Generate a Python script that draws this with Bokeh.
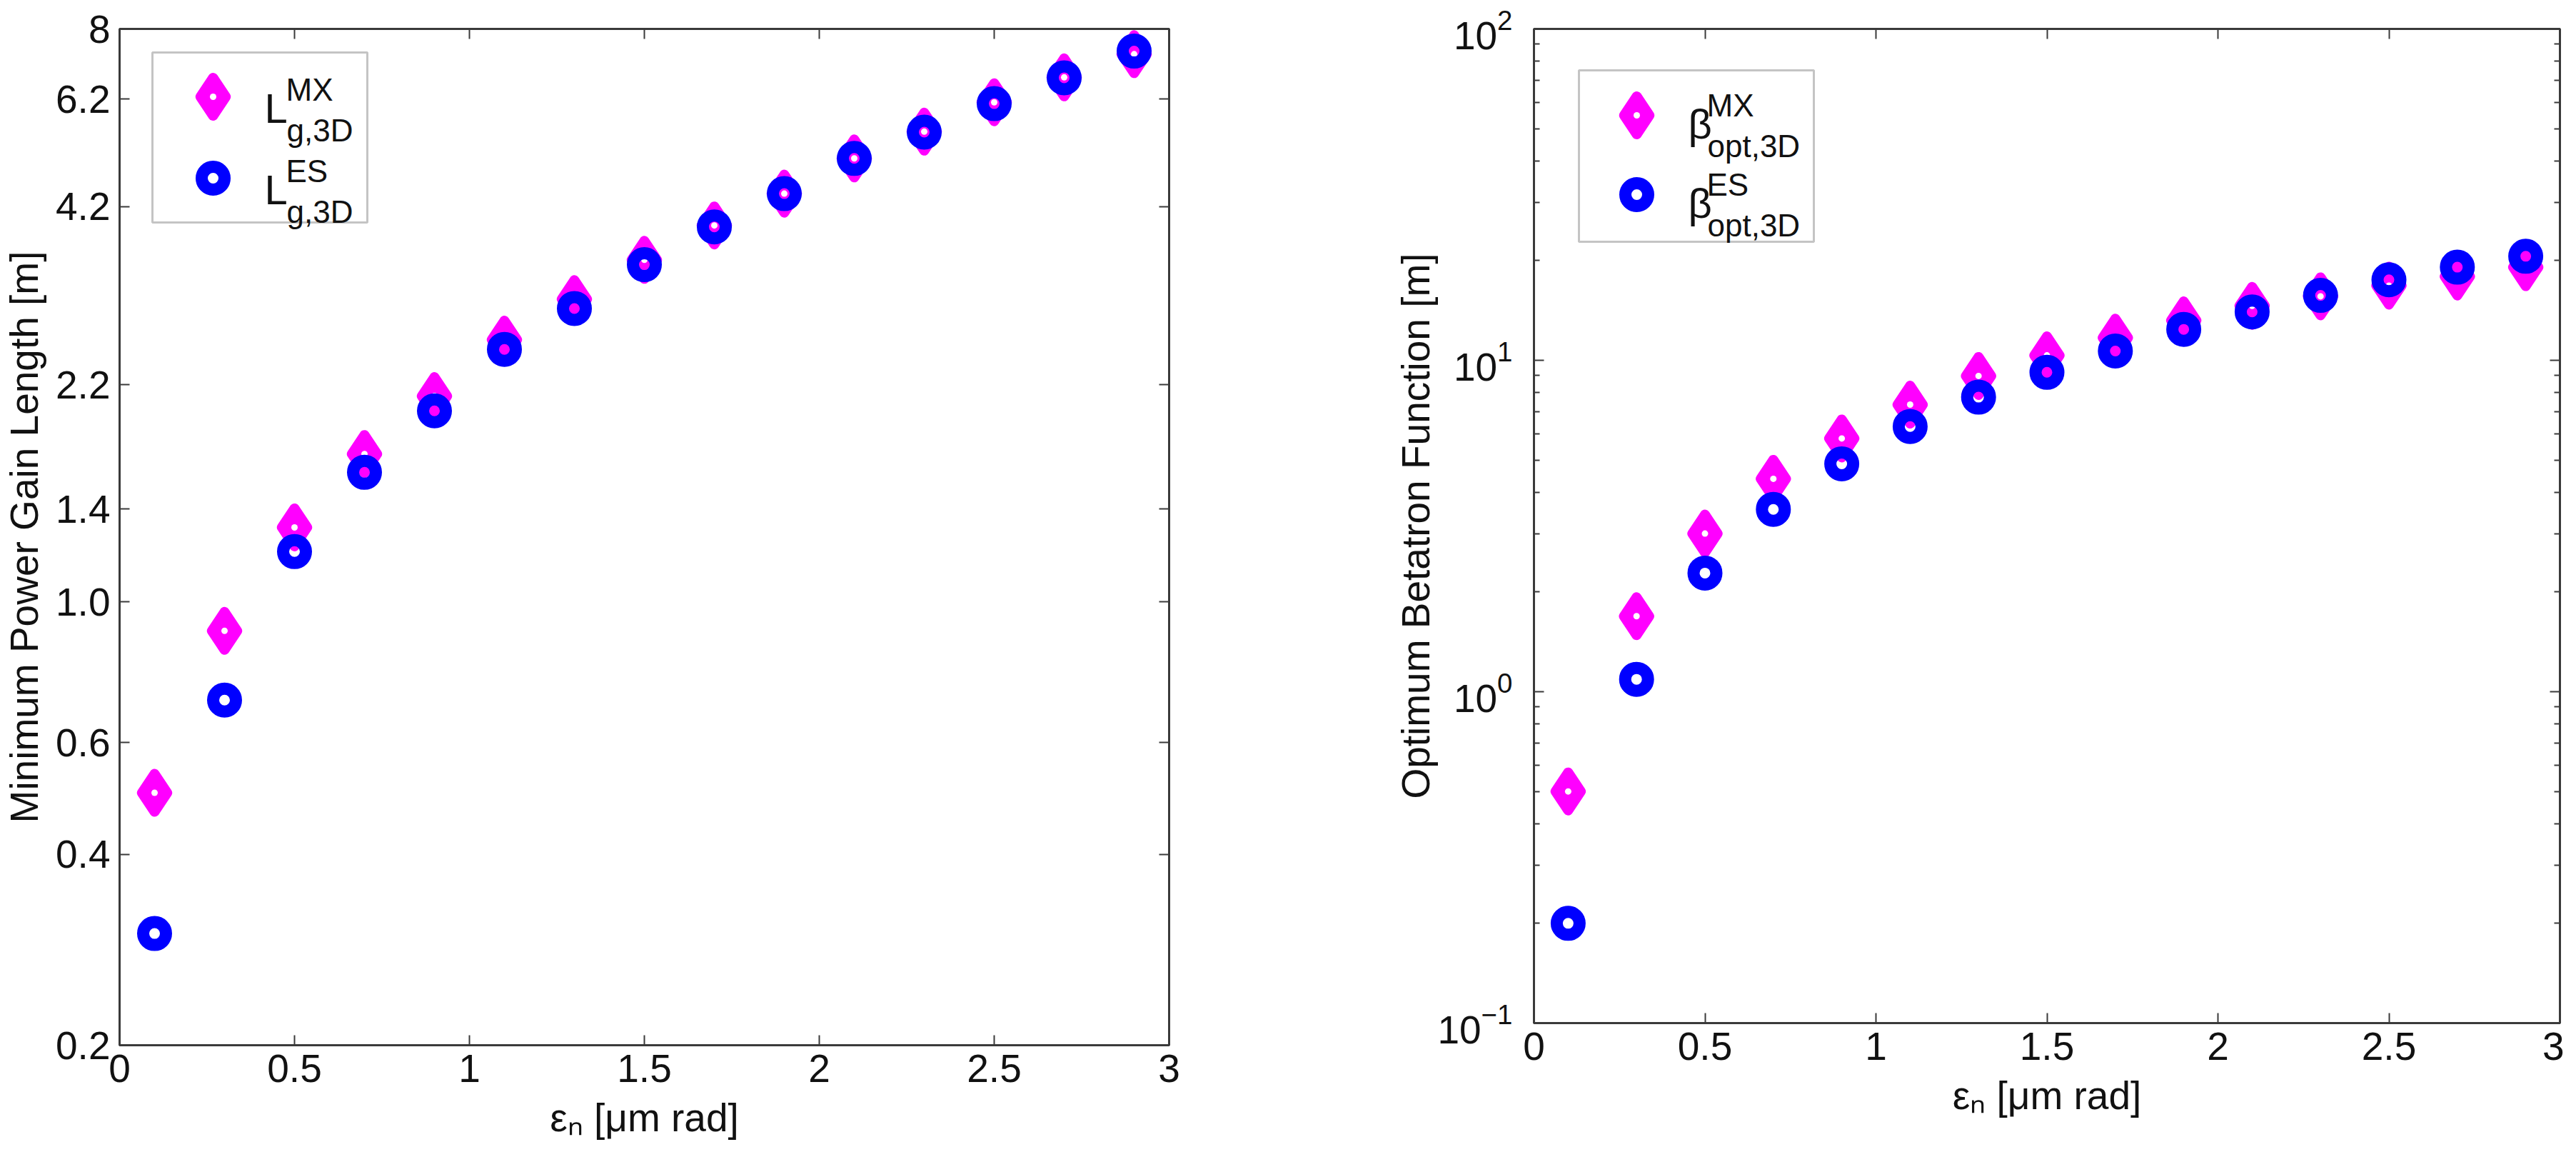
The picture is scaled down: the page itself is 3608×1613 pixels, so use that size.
import math
from bokeh.plotting import figure
from bokeh.layouts import row
from bokeh.models import (Range1d, FixedTicker, PrintfTickFormatter, LinearAxis, LogAxis,
                          BoxAnnotation, Label, LogTickFormatter)
from bokeh.embed import file_html
from bokeh.resources import INLINE

# ---------------- data ----------------
EPS = [0.1, 0.3, 0.5, 0.7, 0.9, 1.1, 1.3, 1.5, 1.7, 1.9, 2.1, 2.3, 2.5, 2.7, 2.9]
LG_MX = [0.50, 0.90, 1.31, 1.71, 2.11, 2.59, 3.00, 3.46, 3.92, 4.40, 5.00, 5.51, 6.13, 6.71, 7.30]
LG_ES = [0.30, 0.70, 1.20, 1.60, 2.00, 2.50, 2.90, 3.40, 3.90, 4.40, 5.00, 5.50, 6.10, 6.70, 7.38]
BETA_MX = [0.50, 1.69, 3.00, 4.39, 5.81, 7.35, 8.97, 10.35, 11.7, 13.2, 14.6, 15.6, 16.8, 17.9, 19.1]
BETA_ES = [0.20, 1.09, 2.28, 3.55, 4.87, 6.31, 7.74, 9.20, 10.67, 12.4, 14.0, 15.7, 17.5, 19.1, 20.6]

X_TICKS = [0, 0.5, 1, 1.5, 2, 2.5, 3]
L_TICKS = [0.2, 0.4, 0.6, 1.0, 1.4, 2.2, 4.2, 6.2, 8]
B_TICKS = [0.1, 1, 10, 100]
B_MINOR = [m * d for d in (0.1, 1, 10) for m in range(2, 10)]

X_LABEL = "\u03b5\u2099 [\u03bcm rad]"
LEFT_YLABEL = "Minimum Power Gain Length [m]"
RIGHT_YLABEL = "Optimum Betatron Function [m]"
LEG_LEFT = [("L", "MX", "g,3D"), ("L", "ES", "g,3D")]
LEG_RIGHT = [("\u03b2", "MX", "opt,3D"), ("\u03b2", "ES", "opt,3D")]

FONT = "Liberation Sans"
MAGENTA = "#FF00FF"
BLUE = "#0000FF"
INK = "#111111"
FRAME = "#3a3a3a"


def style_axis(ax, show_labels, ticks, color=FRAME):
    ax.axis_line_color = color
    ax.axis_line_width = 3
    ax.major_tick_in = 14
    ax.major_tick_out = 0
    ax.minor_tick_in = 8
    ax.minor_tick_out = 0
    ax.major_tick_line_color = color
    ax.major_tick_line_width = 2
    ax.minor_tick_line_color = color
    ax.minor_tick_line_width = 2
    ax.major_label_text_font = FONT
    ax.major_label_text_color = INK
    if show_labels:
        ax.major_label_text_font_size = "55px"
        ax.major_label_standoff = 13
    else:
        ax.formatter = PrintfTickFormatter(format="%g")
        ax.major_label_overrides = {t: "" for t in ticks}
        ax.major_label_text_font_size = "2px"
        ax.major_label_standoff = 0
    ax.axis_label_text_font = FONT
    ax.axis_label_text_font_size = "55px"
    ax.axis_label_text_font_style = "normal"
    ax.axis_label_text_color = INK


def make_mapper(fl, ft, fw, fh, x0, x1, y0, y1):
    def mx(px):
        return x0 + (px - fl) / fw * (x1 - x0)

    def my(py):
        a, b = math.log10(y1), math.log10(y0)
        return 10 ** (a - (py - ft) / fh * (a - b))
    return mx, my


def draw_markers(p, xs, ys_mx, ys_es):
    p.scatter(xs, ys_mx, marker="diamond", size=53, fill_color=MAGENTA, line_color=MAGENTA,
              line_width=14, line_join="round")
    p.scatter(xs, ys_mx, marker="circle", size=9, fill_color="white", line_color=None)
    p.scatter(xs, ys_es, marker="circle", size=32, fill_color=None, line_color=BLUE, line_width=17)


def build(fw, fh, borders, y0, y1, yticks, yminor, yformat, ylabel, frame_color,
          ylabel_standoff, tick_standoff):
    p = figure(frame_width=fw, frame_height=fh, x_range=Range1d(0, 3), y_range=Range1d(y0, y1),
               y_axis_type="log", output_backend="svg", toolbar_location=None,
               min_border_left=borders[0], min_border_right=borders[1],
               min_border_top=borders[2], min_border_bottom=borders[3])
    p.title.visible = False
    p.title_location = None
    p.grid.visible = False
    p.outline_line_color = frame_color
    p.outline_line_width = 3
    p.background_fill_color = "white"
    p.border_fill_color = "white"

    xa = p.xaxis[0]
    xa.ticker = FixedTicker(ticks=X_TICKS)
    style_axis(xa, True, X_TICKS, frame_color)
    xa.axis_label = X_LABEL
    xa.axis_label_standoff = 16
    ya = p.yaxis[0]
    ya.ticker = FixedTicker(ticks=yticks, minor_ticks=yminor)
    if yformat is not None:
        ya.formatter = yformat
    style_axis(ya, True, yticks, frame_color)
    ya.major_label_standoff = tick_standoff
    ya.axis_label = ylabel
    ya.axis_label_standoff = ylabel_standoff

    # tick-only axes on the top and right edges (MATLAB box style), fixed so they take no space
    top = LinearAxis(ticker=FixedTicker(ticks=X_TICKS), fixed_location=y1)
    style_axis(top, False, X_TICKS, frame_color)
    p.add_layout(top, "above")
    right = LogAxis(ticker=FixedTicker(ticks=yticks, minor_ticks=yminor), fixed_location=3)
    style_axis(right, False, yticks, frame_color)
    p.add_layout(right, "right")
    return p


def add_legend(p, mx, my, box, rows, items):
    l, r, t, b = box
    p.add_layout(BoxAnnotation(left=mx(l), right=mx(r), top=my(t), bottom=my(b),
                               fill_color="white", fill_alpha=1.0, line_color=FRAME,
                               line_width=3, level="underlay"))
    (mkx, r1, r2, main_x, sup_x, sub_x, d_main, d_sup, d_sub) = rows
    p.scatter([mx(mkx)], [my(r1)], marker="diamond", size=53, fill_color=MAGENTA,
              line_color=MAGENTA, line_width=14, line_join="round")
    p.scatter([mx(mkx)], [my(r1)], marker="circle", size=9, fill_color="white", line_color=None)
    p.scatter([mx(mkx)], [my(r2)], marker="circle", size=32, fill_color=None, line_color=BLUE,
              line_width=17)
    for rc, (main, sup, sub) in zip((r1, r2), items):
        p.add_layout(Label(x=mx(main_x), y=my(rc + d_main), text=main, text_font=FONT,
                           text_font_size="58px", text_color=INK, text_align="left",
                           text_baseline="alphabetic"))
        p.add_layout(Label(x=mx(sup_x), y=my(rc + d_sup), text=sup, text_font=FONT,
                           text_font_size="44px", text_color=INK, text_align="left",
                           text_baseline="alphabetic"))
        p.add_layout(Label(x=mx(sub_x), y=my(rc + d_sub), text=sub, text_font=FONT,
                           text_font_size="44px", text_color=INK, text_align="left",
                           text_baseline="alphabetic"))


# ---------------- left panel ----------------
FL1, FT1, FW1, FH1 = 171, 28, 1470, 1423
p1 = build(FW1, FH1, (163, 159, 20, 154), 0.2, 8, L_TICKS, [],
           PrintfTickFormatter(format="%.1f"), LEFT_YLABEL, FRAME, 10, 13)
p1.yaxis[0].major_label_overrides = {8: "8"}
m1x, m1y = make_mapper(FL1, FT1, FW1, FH1, 0, 3, 0.2, 8)
draw_markers(p1, EPS, LG_MX, LG_ES)
add_legend(p1, m1x, m1y, (217, 518, 61, 299),
           (302, 123, 237, 374, 404, 405, 16, -10, 47), LEG_LEFT)

# ---------------- right panel ----------------
FL2, FT2, FW2, FH2 = 2152, 48, 1437, 1392
p2 = build(FW2, FH2, (352, 6, 40, 165), 0.1, 100, B_TICKS, B_MINOR,
           LogTickFormatter(), RIGHT_YLABEL, FRAME, -4, 30)
m2x, m2y = make_mapper(FL2, FT2, FW2, FH2, 0, 3, 0.1, 100)
draw_markers(p2, EPS, BETA_MX, BETA_ES)
add_legend(p2, m2x, m2y, (2215, 2544, 106, 346),
           (2296, 169, 280, 2368, 2394, 2395, 12, -14, 43), LEG_RIGHT)

layout = row(p1, p2)
open("out.html", "w").write(file_html(layout, INLINE))
